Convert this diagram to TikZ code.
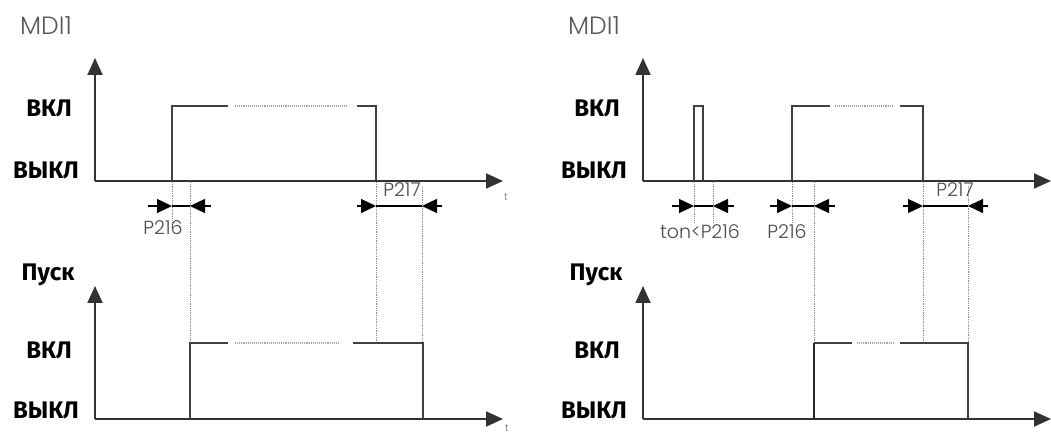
\documentclass[tikz,border=0pt]{standalone}
\usepackage{fontspec}
\setmainfont{Fira Sans}
\newfontfamily\thinfont{Poppins Light}
\usetikzlibrary{arrows.meta}

\begin{document}
\begin{tikzpicture}[
  x=1pt,y=-1pt,
  axis/.style={line width=1.9pt,draw=black!80,-{Triangle[length=17,width=15]}},
  sig/.style={line width=1.3pt,draw=black!75},
  gapline/.style={line width=1.1pt,draw=black!35,densely dotted},
  guide/.style={line width=0.8pt,draw=black!45,densely dotted},
  dim/.style={line width=1.2pt,-{Triangle[length=15,width=14]}},
  level/.style={font=\bfseries\fontsize{24}{24}\selectfont},
  siglabel/.style={font=\thinfont\fontsize{25}{25}\selectfont,text=black!65},
  param/.style={font=\thinfont\fontsize{19}{19}\selectfont,text=black!70},
  tlab/.style={font=\thinfont\fontsize{10}{10}\selectfont,text=black!60}
]
  \useasboundingbox (0,0) rectangle (1051,435);

  % axes of both panels
  \foreach \dx in {0,548} {
    \begin{scope}[xshift=\dx]
      \coordinate (o1) at (95,181);
      \coordinate (o2) at (95,419);
      \draw[axis] (o1) -- (95,58);
      \draw[axis] (o1) -- (503,181);
      \draw[axis] (o2) -- (95,286);
      \draw[axis] (o2) -- (503,419);
      \node[siglabel] (in) at (46,26) {MDI1};
      \node[level] (on1) at (49,108) {ВКЛ};
      \node[level] (off1) at (46,170) {ВЫКЛ};
      \node[level] (run) at (48,275) {Пуск};
      \node[level] (on2) at (49,350) {ВКЛ};
      \node[level] (off2) at (46,410) {ВЫКЛ};
    \end{scope}
  }
  \node[tlab] (t1) at (506,197) {t};
  \node[tlab] (t2) at (507,428) {t};

  % left: MDI1
  \draw[sig] (172,181) -- (172,106) -- (228,106);
  \draw[gapline] (235,106) -- (348,106);
  \draw[sig] (357,106) -- (376,106) -- (376,181);
  % left: Пуск
  \draw[sig] (190,419) -- (190,343) -- (228,343);
  \draw[gapline] (235,343) -- (340,343);
  \draw[sig] (353,343) -- (423,343) -- (423,419);

  % left: delays
  \draw[guide] (172,182) -- (172,222);
  \draw[guide] (190,182) -- (190,342);
  \draw[guide] (376,182) -- (376,342);
  \draw[guide] (422,186) -- (422,342);
  \draw[dim] (148,206) -- (172,206);
  \draw[line width=1.2pt] (172,206) -- (190,206);
  \draw[dim] (211,206) -- (190,206);
  \draw[dim] (357,206) -- (376,206);
  \draw[line width=1.2pt] (376,206) -- (422,206);
  \draw[dim] (442,206) -- (422,206);
  \node[param] (p216a) at (163,228) {P216};
  \node[param] (p217a) at (402,190) {P217};

  % right: MDI1
  \draw[sig] (694,181) -- (694,106) -- (703,106) -- (703,181);
  \draw[sig] (792,181) -- (792,106) -- (830,106);
  \draw[gapline] (835,106) -- (893,106);
  \draw[sig] (900,106) -- (923,106) -- (923,181);
  % right: Пуск
  \draw[sig] (900,343) -- (968,343) -- (968,419);
  \draw[sig] (814,343) -- (852,343);
  \draw[gapline] (857,343) -- (893,343);
  \draw[line width=2.6pt,draw=black!85] (814,419) -- (814,343);

  % right: delays
  \draw[guide] (694,182) -- (694,222);
  \draw[guide] (713,182) -- (713,222);
  \draw[guide] (792,182) -- (792,222);
  \draw[guide] (814,182) -- (814,342);
  \draw[guide] (923,182) -- (923,342);
  \draw[guide] (968,186) -- (968,342);
  \draw[dim] (672,206) -- (694,206);
  \draw[line width=1.2pt] (694,206) -- (713,206);
  \draw[dim] (734,206) -- (713,206);
  \draw[dim] (770,206) -- (792,206);
  \draw[line width=1.2pt] (792,206) -- (814,206);
  \draw[dim] (835,206) -- (814,206);
  \draw[dim] (903,206) -- (923,206);
  \draw[line width=1.2pt] (923,206) -- (968,206);
  \draw[dim] (988,206) -- (968,206);
  \node[param] (ton) at (700,232) {ton<P216};
  \node[param] (p216b) at (787,232) {P216};
  \node[param] (p217b) at (955,190) {P217};
\end{tikzpicture}
\end{document}
